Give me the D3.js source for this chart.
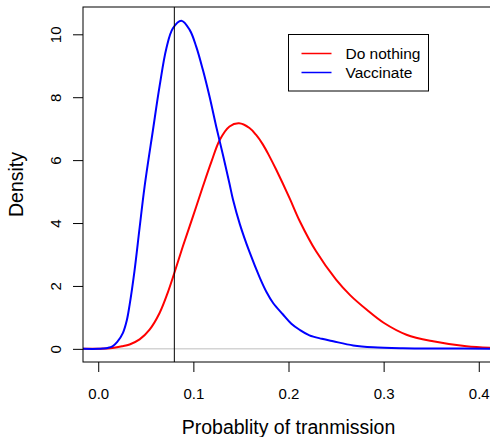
<!DOCTYPE html>
<html>
<head>
<meta charset="utf-8">
<script src="https://cdn.jsdelivr.net/npm/d3@7"></script>
<style>
  body { margin: 0; background: #fff; }
  svg text { font-family: "Liberation Sans", Arial, sans-serif; fill: #000; }
</style>
</head>
<body>
<svg id="chart" width="490" height="437"></svg>
<script>
// ── 데이터 ───────────────────────────────────────────
const seriesNames  = ["Do nothing", "Vaccinate"];
const seriesColors = ["#ff0000", "#0000ff"];

// Do nothing (빨강)
const nothingX = [-0.016, 0.000, 0.015, 0.025, 0.033, 0.0435, 0.054, 0.0645, 0.073, 0.080, 0.089, 0.0996,
                  0.110, 0.119, 0.1277, 0.138, 0.148, 0.159, 0.166, 0.173, 0.180, 0.187, 0.201, 0.212,
                  0.229, 0.250, 0.265, 0.282, 0.300, 0.324, 0.352, 0.387, 0.416];
const nothingY = [0, 0.005, 0.03, 0.08, 0.14, 0.30, 0.61, 1.14, 1.78, 2.41, 3.26, 4.21,
                  5.16, 5.95, 6.64, 7.07, 7.17, 7.02, 6.80, 6.50, 6.12, 5.70, 4.80, 4.05,
                  3.10, 2.20, 1.70, 1.25, 0.83, 0.45, 0.24, 0.08, 0.03];

// Vaccinate (파랑)
const vaccX = [-0.016, 0.000, 0.005, 0.010, 0.015, 0.020, 0.026, 0.030, 0.033, 0.038, 0.0435, 0.0487,
               0.0575, 0.0645, 0.0716, 0.0785, 0.0874, 0.0961, 0.103, 0.110, 0.117, 0.124, 0.131,
               0.138, 0.1417, 0.149, 0.159, 0.170, 0.177, 0.184, 0.194, 0.203, 0.212, 0.222, 0.235,
               0.247, 0.268, 0.289, 0.320, 0.360, 0.416];
const vaccY = [0, 0, 0.01, 0.03, 0.08, 0.22, 0.51, 0.90, 1.40, 2.45, 3.85, 5.15,
               6.95, 8.35, 9.55, 10.19, 10.43, 10.14, 9.61, 8.87, 8.02, 7.07, 6.18,
               5.25, 4.74, 3.95, 3.08, 2.25, 1.80, 1.45, 1.10, 0.80, 0.60, 0.43, 0.32,
               0.24, 0.11, 0.05, 0.02, 0.01, 0.005];

const xTicks = [0, 0.1, 0.2, 0.3, 0.4];
const yTicks = [0, 2, 4, 6, 8, 10];
const cutoff = 0.08;   // 세로 기준선

// ── 레이아웃 ────────────────────────────────────────────────
const PLOT = { left: 83, right: 494, top: 7, bottom: 362 };
const FONT_TICK = 15;
const FONT_LAB  = 19.5;

const svg = d3.select("#chart");

const x = d3.scaleLinear().domain([-0.016, 0.416]).range([PLOT.left, PLOT.right]);
const y = d3.scaleLinear().domain([-0.418, 10.868]).range([PLOT.bottom, PLOT.top]);

svg.append("defs").append("clipPath").attr("id", "clip")
  .append("rect")
  .attr("x", PLOT.left).attr("y", PLOT.top)
  .attr("width", PLOT.right - PLOT.left).attr("height", PLOT.bottom - PLOT.top);

// 0 기준선 (회색)
svg.append("line")
  .attr("x1", PLOT.left).attr("x2", PLOT.right)
  .attr("y1", y(0)).attr("y2", y(0))
  .attr("stroke", "#bebebe").attr("stroke-width", 1);

// ── 곡선 ────────────────────────────────────────────────────
const line = d3.line()
  .x(d => x(d[0])).y(d => y(Math.max(0, d[1])))
  .curve(d3.curveCatmullRom.alpha(0.5));

const curves = [
  d3.zip(nothingX, nothingY),
  d3.zip(vaccX, vaccY)
];

const curveG = svg.append("g").attr("clip-path", "url(#clip)");
curves.forEach((pts, i) => {
  curveG.append("path")
    .attr("d", line(pts))
    .attr("fill", "none")
    .attr("stroke", seriesColors[i])
    .attr("stroke-width", 2);
});

// 세로선
svg.append("line")
  .attr("x1", x(cutoff)).attr("x2", x(cutoff))
  .attr("y1", PLOT.top).attr("y2", PLOT.bottom)
  .attr("stroke", "#000").attr("stroke-width", 1);

// ── 박스 ────────────────────────────────────────────────────
svg.append("rect")
  .attr("x", PLOT.left).attr("y", PLOT.top)
  .attr("width", PLOT.right - PLOT.left).attr("height", PLOT.bottom - PLOT.top)
  .attr("fill", "none").attr("stroke", "#000").attr("stroke-width", 1);

// ── 축 ──────────────────────────────────────────────────────
const xAxis = svg.append("g")
  .attr("transform", `translate(0,${PLOT.bottom})`)
  .call(d3.axisBottom(x).tickValues(xTicks).tickFormat(d3.format(".1f"))
        .tickSize(10).tickSizeOuter(0).tickPadding(16));
xAxis.select(".domain").remove();
xAxis.selectAll("text").attr("font-size", FONT_TICK).attr("font-family", null);

const yAxis = svg.append("g")
  .attr("transform", `translate(${PLOT.left},0)`)
  .call(d3.axisLeft(y).tickValues(yTicks).tickSize(10).tickSizeOuter(0));
yAxis.select(".domain").remove();
yAxis.selectAll("text")
  .attr("font-size", FONT_TICK).attr("font-family", null)
  .attr("x", null).attr("dy", null)
  .attr("text-anchor", "middle")
  .attr("transform", "translate(-22,0) rotate(-90)");
svg.selectAll(".tick line").attr("stroke", "#000");

// 축 제목
svg.append("text")
  .attr("x", (PLOT.left + PLOT.right) / 2).attr("y", 434)
  .attr("text-anchor", "middle").attr("font-size", FONT_LAB)
  .text("Probablity of tranmission");

svg.append("text")
  .attr("transform", `translate(23,${(PLOT.top + PLOT.bottom) / 2}) rotate(-90)`)
  .attr("text-anchor", "middle").attr("font-size", FONT_LAB)
  .text("Density");

// ── 범례 ────────────────────────────────────────────────────
const leg = svg.append("g").attr("transform", "translate(288.5,34.5)");
leg.append("rect")
  .attr("width", 140).attr("height", 56.5)
  .attr("fill", "#fff").attr("stroke", "#000").attr("stroke-width", 1);
seriesNames.forEach((name, i) => {
  const ly = 19 + i * 19;
  leg.append("line")
    .attr("x1", 13).attr("x2", 43).attr("y1", ly).attr("y2", ly)
    .attr("stroke", seriesColors[i]).attr("stroke-width", 1.5);
  leg.append("text")
    .attr("x", 57).attr("y", ly).attr("dy", "0.35em")
    .attr("font-size", 15.5)
    .text(name);
});
</script>
</body>
</html>
